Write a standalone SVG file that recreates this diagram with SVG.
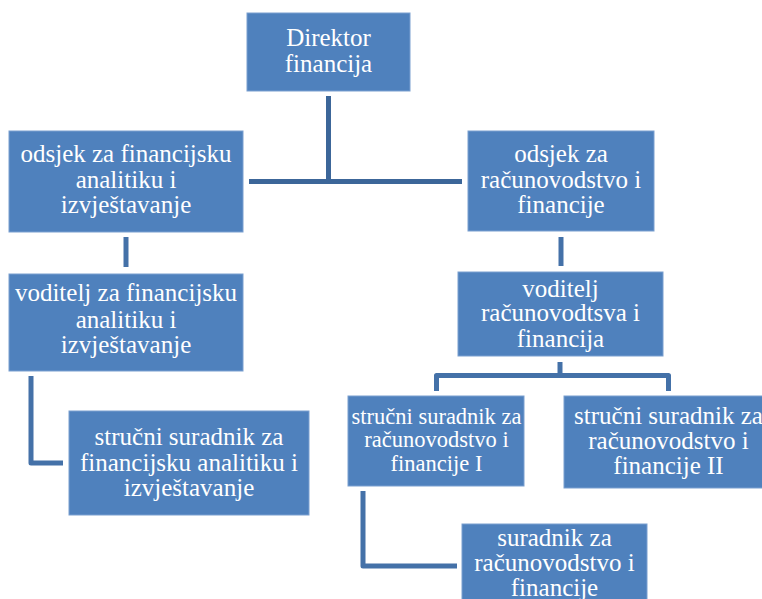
<svg xmlns="http://www.w3.org/2000/svg" width="762" height="599" viewBox="0 0 762 599">
<style>
.box{fill:#4f81bd;stroke:#7a9fd0;stroke-width:1}
.t{font-family:'Liberation Serif',serif;font-size:25px;fill:#ffffff;text-anchor:middle}
.s{font-size:22.5px}
.c{fill:none;stroke:#4471a8;stroke-width:5;stroke-linejoin:round}
.c2{fill:none;stroke:#3c6699;stroke-width:5}
</style>
<rect width="762" height="599" fill="#ffffff"/>
<g id="connectors">
<path class="c2" d="M328.5,96 V181.5"/>
<path class="c2" d="M249,181.5 H462"/>
<path class="c" d="M126,237 V267"/>
<path class="c" d="M561,237 V266"/>
<path class="c" d="M31,376 V463 H63"/>
<path class="c" d="M560,362 V375.5"/>
<path class="c" d="M436.5,391 V375.5 H668.5 V391"/>
<path class="c" d="M363,491 V566 H457"/>
</g>
<g id="n-direktor">
<rect class="box" x="247" y="13" width="163" height="78"/>
<text class="t" x="328.5" y="46">Direktor</text>
<text class="t" x="328.5" y="72">financija</text>
</g>
<g id="n-odsjek-fin">
<rect class="box" x="9" y="131" width="234" height="101"/>
<text class="t" x="126" y="162">odsjek za financijsku</text>
<text class="t" x="126" y="188">analitiku i</text>
<text class="t" x="126" y="213">izvještavanje</text>
</g>
<g id="n-odsjek-rac">
<rect class="box" x="468" y="131" width="186" height="100"/>
<text class="t" x="561" y="162">odsjek za</text>
<text class="t" x="561" y="188">računovodstvo i</text>
<text class="t" x="561" y="213">financije</text>
</g>
<g id="n-voditelj-fin">
<rect class="box" x="9" y="274" width="234" height="97"/>
<text class="t" x="126" y="301">voditelj za financijsku</text>
<text class="t" x="126" y="328">analitiku i</text>
<text class="t" x="126" y="353">izvještavanje</text>
</g>
<g id="n-voditelj-rac">
<rect class="box" x="458" y="272" width="205" height="84"/>
<text class="t" x="560.5" y="297">voditelj</text>
<text class="t" x="560.5" y="321">računovodtsva i</text>
<text class="t" x="560.5" y="347">financija</text>
</g>
<g id="n-strucni-fin">
<rect class="box" x="69" y="411" width="240" height="104"/>
<text class="t" x="189" y="445">stručni suradnik za</text>
<text class="t" x="189" y="471">financijsku analitiku i</text>
<text class="t" x="189" y="496">izvještavanje</text>
</g>
<g id="n-strucni-rac-1">
<rect class="box" x="348" y="396" width="176" height="90"/>
<text class="t s" x="436.5" y="424">stručni suradnik za</text>
<text class="t s" x="436.5" y="447">računovodstvo i</text>
<text class="t s" x="436.5" y="471">financije I</text>
</g>
<g id="n-strucni-rac-2">
<rect class="box" x="564" y="396" width="206" height="92"/>
<text class="t" x="668.5" y="424">stručni suradnik za</text>
<text class="t" x="668.5" y="449">računovodstvo i</text>
<text class="t" x="668.5" y="474">financije II</text>
</g>
<g id="n-suradnik-rac">
<rect class="box" x="462" y="524" width="185" height="85"/>
<text class="t" x="554.5" y="546">suradnik za</text>
<text class="t" x="554.5" y="571">računovodstvo i</text>
<text class="t" x="554.5" y="596">financije</text>
</g>
</svg>
